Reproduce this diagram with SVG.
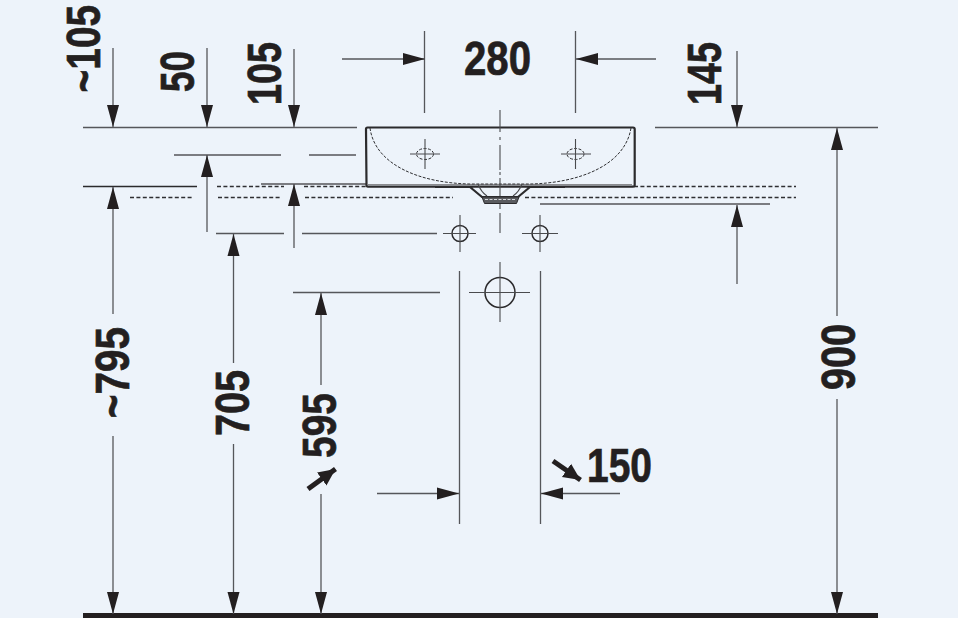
<svg xmlns="http://www.w3.org/2000/svg" width="958" height="625" viewBox="0 0 958 625">
<style>
.d{stroke:#55565a;stroke-width:1.3;fill:none}
.k{stroke:#2b2a2c;stroke-width:1.5;fill:none}
.a{marker-end:url(#ah)}
.s{stroke:#2f2f32;stroke-width:1.4;fill:none;stroke-dasharray:4 2.4}
.t{font-family:"Liberation Sans",Arial,sans-serif;font-weight:700;font-size:47.500px;fill:#231f20;stroke:#231f20;stroke-width:.7}
.o{stroke:#2f2f32;stroke-width:1;fill:none;stroke-dasharray:3 1.5}
.x{stroke:#4a4b4e;stroke-width:1.1;fill:none}
.b{stroke:#2b2a2c;stroke-width:2.200;fill:none}
</style>
<defs>
<marker id="ah" markerUnits="userSpaceOnUse" markerWidth="24" markerHeight="14" refX="22" refY="6.500" orient="auto"><path d="M0,0.500 L22,6.500 L0,12.500Z" fill="#231f20"/></marker>
<marker id="bh" markerUnits="userSpaceOnUse" markerWidth="20" markerHeight="20" refX="17" refY="9" orient="auto"><path d="M0,1 L17,9 L0,17Z" fill="#231f20"/></marker>
</defs>
<rect width="958" height="625" fill="#edf3fa"/>
<rect y="618" width="958" height="7" fill="#ffffff"/>
<rect x="83" y="613" width="795" height="5" fill="#231f20"/>
<g id="connectors">
<path class="d" d="M83,127.500H357M655,127.500H878M174,155H281M309,155H356M261,184H366M216,233.500H284M302,233.500H437M293,292.500H440M540,204H770"/>
<path class="k" d="M83,186.500H197"/>
<path class="s" d="M217,186.500H284M304,186.500H366M634,186.500H796M130,197.500H193M218,197.500H282M305,197.500H453M525,197.500H796"/>
<path class="d" d="M424.500,31V113M575.500,31V113M459.500,271V524M540.500,271V524"/>
<line class="d a" x1="113" y1="48" x2="113" y2="127"/>
<line class="d a" x1="207" y1="48" x2="207" y2="127"/>
<line class="d a" x1="294" y1="49" x2="294" y2="127"/>
<line class="d a" x1="737" y1="51" x2="737" y2="127"/>
<line class="d a" x1="207" y1="232" x2="207" y2="155"/>
<line class="d a" x1="294" y1="248" x2="294" y2="184"/>
<line class="d a" x1="113" y1="314" x2="113" y2="187"/>
<line class="d a" x1="113" y1="436" x2="113" y2="614"/>
<line class="d a" x1="233.500" y1="363" x2="233.500" y2="234"/>
<line class="d a" x1="233.500" y1="444" x2="233.500" y2="614"/>
<line class="d a" x1="321" y1="385" x2="321" y2="293"/>
<line class="d a" x1="321" y1="494" x2="321" y2="614"/>
<line class="d a" x1="837" y1="316" x2="837" y2="128"/>
<line class="d a" x1="837" y1="399" x2="837" y2="614"/>
<line class="d a" x1="737" y1="284" x2="737" y2="205"/>
<line class="d a" x1="342" y1="59" x2="425" y2="59"/>
<line class="d a" x1="656" y1="59" x2="576" y2="59"/>
<line class="d a" x1="377" y1="493.500" x2="459" y2="493.500"/>
<line class="d a" x1="620" y1="493.500" x2="541" y2="493.500"/>
<line x1="308" y1="489" x2="335.500" y2="469" stroke="#231f20" stroke-width="5" marker-end="url(#bh)"/>
<line x1="553" y1="461" x2="580.500" y2="480" stroke="#231f20" stroke-width="5" marker-end="url(#bh)"/>
</g>
<g id="basin">
<path d="M368,184.500H632" stroke="#8a8b8f" stroke-width="1.200" fill="none"/>
<path class="b" d="M435,187 H470 L482,197 H518 L530,187 H565 M366,129 Q366,127.500 367.500,127.500 H633 Q634.700,127.500 634.700,129 V185 Q634.700,186.700 633,186.700 H368 Q366.500,186.700 366.500,185 Z"/>
<path class="o" d="M370,128C375,165 420,183 470,184H530C580,183 625,165 631,128"/>
<path d="M482,197H519L516.500,203.500H484.500Z" fill="#5a5b5f" stroke="#2b2a2c" stroke-width="1"/>
<path d="M485,199.500H516" stroke="#d5d8dd" stroke-width="1.200" stroke-dasharray="3 1.500" fill="none"/>
<path class="x" d="M478,184Q481,192 487,196M522,184Q519,192 513,196"/>
<path class="x" d="M500,110V132M500,137V140M500,145V170M500,172V175M500,178V196M500,204V209M500,213V233"/>
</g>
<g id="hole-left-top"><ellipse class="o" cx="425" cy="154" rx="8.500" ry="5.500"/><path class="x" d="M410,154H440M425,139V169"/></g>
<g id="hole-right-top"><ellipse class="o" cx="575.500" cy="154" rx="8.500" ry="5.500"/><path class="x" d="M561,154H591M575.500,139V169"/></g>
<g id="hole-left"><circle class="k" cx="460" cy="233.500" r="8"/><path class="x" d="M443,233.500H476M460,215V252"/></g>
<g id="hole-right"><circle class="k" cx="540" cy="233.500" r="8"/><path class="x" d="M522,233.500H558M540,215V252"/></g>
<g id="drain"><circle class="k" cx="500" cy="292.500" r="15"/><path class="x" d="M469,292.500H530M500,262V322"/></g>
<g id="labels">
<text class="t" x="464" y="75" textLength="67" lengthAdjust="spacingAndGlyphs">280</text>
<text class="t" x="587" y="481.500" textLength="65" lengthAdjust="spacingAndGlyphs">150</text>
<text class="t" transform="translate(99.500,92.500) rotate(-90) scale(.82,1)">~105</text>
<text class="t" transform="translate(194,92) rotate(-90)" textLength="41" lengthAdjust="spacingAndGlyphs">50</text>
<text class="t" transform="translate(281,105) rotate(-90)" textLength="63" lengthAdjust="spacingAndGlyphs">105</text>
<text class="t" transform="translate(721,105) rotate(-90)" textLength="63" lengthAdjust="spacingAndGlyphs">145</text>
<text class="t" transform="translate(129,418) rotate(-90)" textLength="91" lengthAdjust="spacingAndGlyphs">~795</text>
<text class="t" transform="translate(249,436) rotate(-90)" textLength="66" lengthAdjust="spacingAndGlyphs">705</text>
<text class="t" transform="translate(336,458) rotate(-90)" textLength="65" lengthAdjust="spacingAndGlyphs">595</text>
<text class="t" transform="translate(855,390) rotate(-90)" textLength="66" lengthAdjust="spacingAndGlyphs">900</text>
</g>
</svg>
